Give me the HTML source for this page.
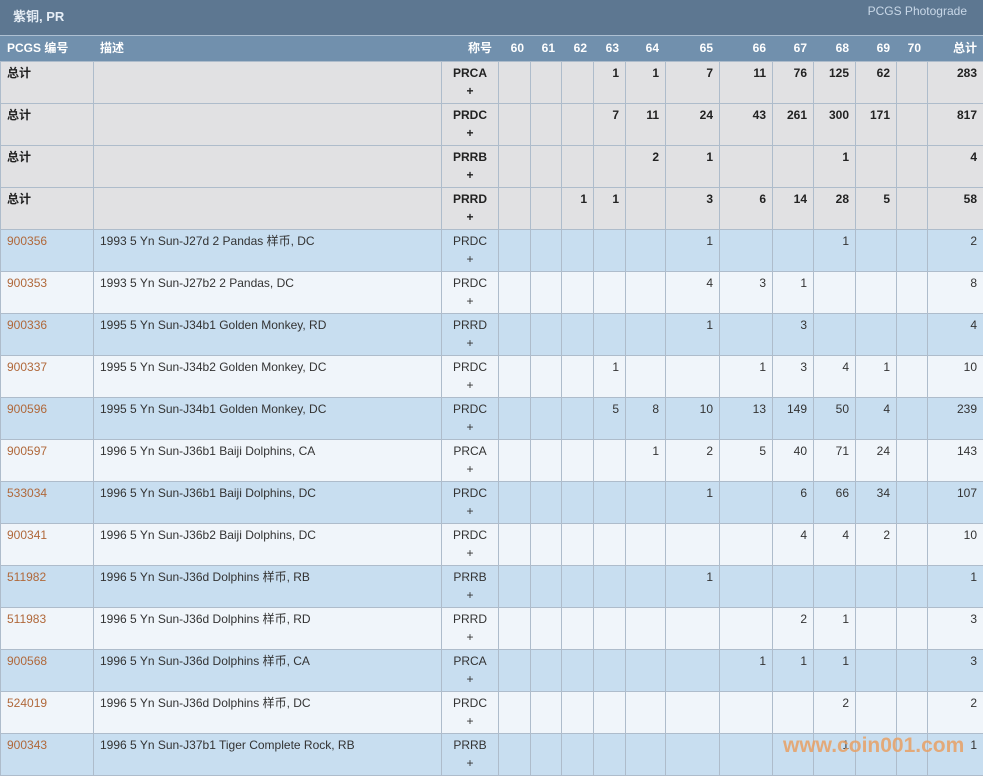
<!DOCTYPE html>
<html><head><meta charset="utf-8"><style>
body{margin:0;width:983px;height:775px;overflow:hidden;background:#fff;font-family:"Liberation Sans","Noto Sans CJK SC",sans-serif;font-size:12px;color:#333}
.title{height:35px;background:#5d7791;border-bottom:1px solid #aec0d2;position:relative;color:#e6eef6}
.title b{position:absolute;left:13px;top:6px;font-size:13px}
.title span{position:absolute;right:16px;top:4px;font-size:12px;color:#c9d8e8}
table{border-collapse:collapse;table-layout:fixed;width:983px}
td,th{border:1px solid #aebccb;padding:0 6px;vertical-align:top;line-height:18px;overflow:hidden;white-space:nowrap}
th{background:#7190ad;color:#fff;height:24px;line-height:22px;font-size:12px;text-align:right;border-color:#7190ad;border-bottom:1px solid #aebccb}
th.l{text-align:left}
tr.r td{height:42px;padding-top:2px;padding-bottom:0;box-sizing:border-box}
td{text-align:right}
td.l{text-align:left}
td.c{text-align:center}
tr.t td{background:#e1e1e3;font-weight:bold;color:#222}
tr.a td{background:#c8def0}
tr.b td{background:#f0f5fa}
a{color:#b0683a;text-decoration:none}
.wm{position:absolute;left:783px;top:734px;font:bold 21px "Liberation Sans",sans-serif;color:rgba(232,160,100,0.85)}
</style></head><body>
<div class="title"><b>紫铜, PR</b><span>PCGS Photograde</span></div>
<table>
<colgroup><col style="width:93px"><col style="width:348px"><col style="width:57px"><col style="width:32px"><col style="width:31px"><col style="width:32px"><col style="width:32px"><col style="width:40px"><col style="width:54px"><col style="width:53px"><col style="width:41px"><col style="width:42px"><col style="width:41px"><col style="width:31px"><col style="width:56px"></colgroup>
<tr><th class="l">PCGS 编号</th><th class="l">描述</th><th>称号</th><th>60</th><th>61</th><th>62</th><th>63</th><th>64</th><th>65</th><th>66</th><th>67</th><th>68</th><th>69</th><th>70</th><th>总计</th></tr>
<tr class="r t"><td class="l">总计</td><td></td><td class="c">PRCA<br>+</td><td></td><td></td><td></td><td>1</td><td>1</td><td>7</td><td>11</td><td>76</td><td>125</td><td>62</td><td></td><td>283</td></tr>
<tr class="r t"><td class="l">总计</td><td></td><td class="c">PRDC<br>+</td><td></td><td></td><td></td><td>7</td><td>11</td><td>24</td><td>43</td><td>261</td><td>300</td><td>171</td><td></td><td>817</td></tr>
<tr class="r t"><td class="l">总计</td><td></td><td class="c">PRRB<br>+</td><td></td><td></td><td></td><td></td><td>2</td><td>1</td><td></td><td></td><td>1</td><td></td><td></td><td>4</td></tr>
<tr class="r t"><td class="l">总计</td><td></td><td class="c">PRRD<br>+</td><td></td><td></td><td>1</td><td>1</td><td></td><td>3</td><td>6</td><td>14</td><td>28</td><td>5</td><td></td><td>58</td></tr>
<tr class="r a"><td class="l"><a>900356</a></td><td class="l">1993 5 Yn Sun-J27d 2 Pandas 样币, DC</td><td class="c">PRDC<br>+</td><td></td><td></td><td></td><td></td><td></td><td>1</td><td></td><td></td><td>1</td><td></td><td></td><td>2</td></tr>
<tr class="r b"><td class="l"><a>900353</a></td><td class="l">1993 5 Yn Sun-J27b2 2 Pandas, DC</td><td class="c">PRDC<br>+</td><td></td><td></td><td></td><td></td><td></td><td>4</td><td>3</td><td>1</td><td></td><td></td><td></td><td>8</td></tr>
<tr class="r a"><td class="l"><a>900336</a></td><td class="l">1995 5 Yn Sun-J34b1 Golden Monkey, RD</td><td class="c">PRRD<br>+</td><td></td><td></td><td></td><td></td><td></td><td>1</td><td></td><td>3</td><td></td><td></td><td></td><td>4</td></tr>
<tr class="r b"><td class="l"><a>900337</a></td><td class="l">1995 5 Yn Sun-J34b2 Golden Monkey, DC</td><td class="c">PRDC<br>+</td><td></td><td></td><td></td><td>1</td><td></td><td></td><td>1</td><td>3</td><td>4</td><td>1</td><td></td><td>10</td></tr>
<tr class="r a"><td class="l"><a>900596</a></td><td class="l">1995 5 Yn Sun-J34b1 Golden Monkey, DC</td><td class="c">PRDC<br>+</td><td></td><td></td><td></td><td>5</td><td>8</td><td>10</td><td>13</td><td>149</td><td>50</td><td>4</td><td></td><td>239</td></tr>
<tr class="r b"><td class="l"><a>900597</a></td><td class="l">1996 5 Yn Sun-J36b1 Baiji Dolphins, CA</td><td class="c">PRCA<br>+</td><td></td><td></td><td></td><td></td><td>1</td><td>2</td><td>5</td><td>40</td><td>71</td><td>24</td><td></td><td>143</td></tr>
<tr class="r a"><td class="l"><a>533034</a></td><td class="l">1996 5 Yn Sun-J36b1 Baiji Dolphins, DC</td><td class="c">PRDC<br>+</td><td></td><td></td><td></td><td></td><td></td><td>1</td><td></td><td>6</td><td>66</td><td>34</td><td></td><td>107</td></tr>
<tr class="r b"><td class="l"><a>900341</a></td><td class="l">1996 5 Yn Sun-J36b2 Baiji Dolphins, DC</td><td class="c">PRDC<br>+</td><td></td><td></td><td></td><td></td><td></td><td></td><td></td><td>4</td><td>4</td><td>2</td><td></td><td>10</td></tr>
<tr class="r a"><td class="l"><a>511982</a></td><td class="l">1996 5 Yn Sun-J36d Dolphins 样币, RB</td><td class="c">PRRB<br>+</td><td></td><td></td><td></td><td></td><td></td><td>1</td><td></td><td></td><td></td><td></td><td></td><td>1</td></tr>
<tr class="r b"><td class="l"><a>511983</a></td><td class="l">1996 5 Yn Sun-J36d Dolphins 样币, RD</td><td class="c">PRRD<br>+</td><td></td><td></td><td></td><td></td><td></td><td></td><td></td><td>2</td><td>1</td><td></td><td></td><td>3</td></tr>
<tr class="r a"><td class="l"><a>900568</a></td><td class="l">1996 5 Yn Sun-J36d Dolphins 样币, CA</td><td class="c">PRCA<br>+</td><td></td><td></td><td></td><td></td><td></td><td></td><td>1</td><td>1</td><td>1</td><td></td><td></td><td>3</td></tr>
<tr class="r b"><td class="l"><a>524019</a></td><td class="l">1996 5 Yn Sun-J36d Dolphins 样币, DC</td><td class="c">PRDC<br>+</td><td></td><td></td><td></td><td></td><td></td><td></td><td></td><td></td><td>2</td><td></td><td></td><td>2</td></tr>
<tr class="r a"><td class="l"><a>900343</a></td><td class="l">1996 5 Yn Sun-J37b1 Tiger Complete Rock, RB</td><td class="c">PRRB<br>+</td><td></td><td></td><td></td><td></td><td></td><td></td><td></td><td></td><td>1</td><td></td><td></td><td>1</td></tr>
</table>
<div class="wm">www.coin001.com</div>
</body></html>
